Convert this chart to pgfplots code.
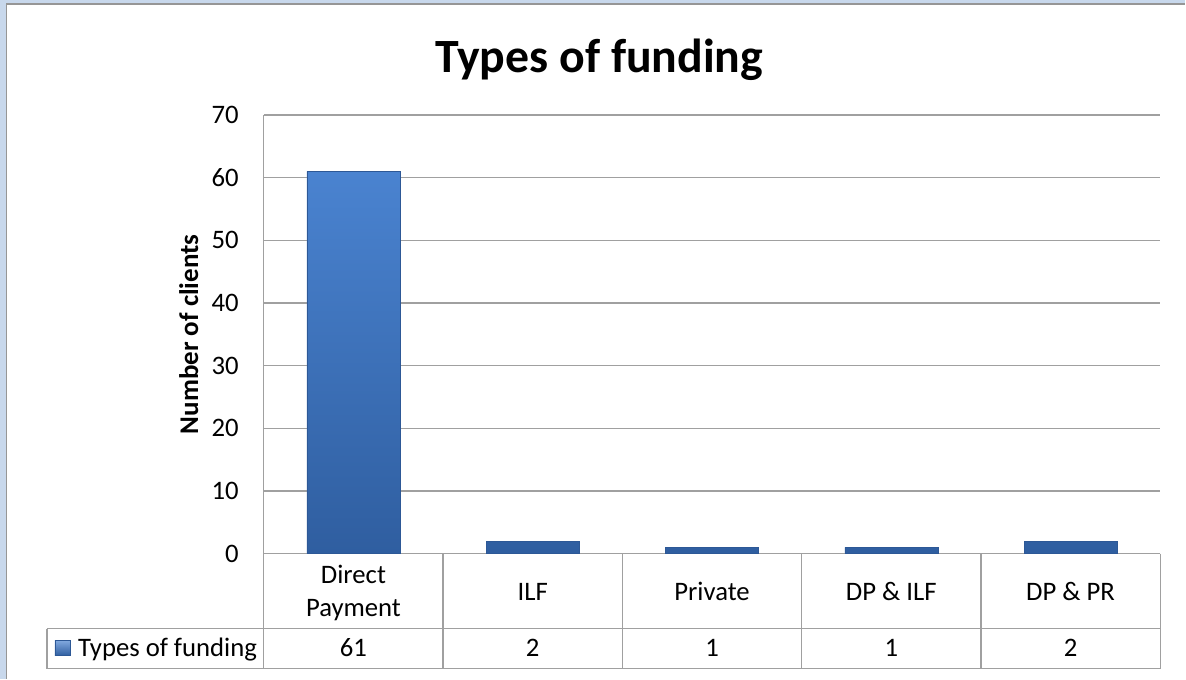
\documentclass[border=0pt]{standalone}
\usepackage{fontspec}
\setmainfont{Carlito}
\usepackage{pgfplots}
\pgfplotsset{compat=1.18}
\definecolor{gridgray}{RGB}{160,160,160}
\definecolor{frameblue}{RGB}{200,216,236}
\definecolor{framegray}{RGB}{150,150,150}
\definecolor{barTop}{RGB}{74,131,208}
\definecolor{barBot}{RGB}{47,94,160}
\definecolor{barEdge}{RGB}{45,88,150}
\begin{document}
\begin{tikzpicture}
\fill[frameblue] (0pt,0pt) rectangle (1186pt,679pt);
\fill[white] (6pt,0pt) rectangle (1186pt,675pt);
\draw[framegray, line width=1.6pt] (6.5pt,0pt) -- (6.5pt,675pt) -- (1186pt,675pt);
\begin{axis}[
  at={(264pt,125pt)}, anchor=south west,
  scale only axis, width=897pt, height=439pt,
  xmin=-0.5, xmax=4.5, ymin=0, ymax=70,
  ytick={0,10,...,70},
  xtick={0,1,2,3,4},
  xticklabels={{\strut Direct\\\strut Payment},{\strut ILF},{\strut Private},{\strut DP \& ILF},{\strut DP \& PR}},
  axis x line=bottom, axis y line=left,
  axis line style={draw=gridgray, line width=1.3pt, -},
  major tick length=0pt,
  ymajorgrids, grid style={draw=gridgray, line width=1.3pt},
  /pgf/number format/assume math mode=true,
  yticklabel style={anchor=east, inner sep=0pt, xshift=-25pt, font=\fontsize{26.7}{31}\selectfont},
  xticklabel style={anchor=center, align=center, yshift=-40pt, font=\fontsize{26.7}{33.4}\selectfont},
  ylabel={Number of clients},
  ylabel style={at={(axis description cs:-0.0836,0.5)}, anchor=center, font=\bfseries\fontsize{27}{31}\selectfont},
  clip=false,
]
\addplot[ybar, bar width=93pt, draw=barEdge, line width=0.5pt, top color=barTop, bottom color=barBot]
  coordinates {(0,61) (1,2) (2,1) (3,1) (4,2)};
% data table grid
\draw[gridgray, line width=1.3pt] (axis cs:-1.7096,-11.959) -- (axis cs:4.5,-11.959);
\draw[gridgray, line width=1.3pt] (axis cs:-1.7096,-18.337) -- (axis cs:4.5,-18.337);
\draw[gridgray, line width=1.3pt] (axis cs:-1.7096,-11.959) -- (axis cs:-1.7096,-18.337);
\pgfplotsinvokeforeach{-0.5,0.5,1.5,2.5,3.5,4.5}{
  \draw[gridgray, line width=1.3pt] (axis cs:#1,0) -- (axis cs:#1,-18.337);
}
\node[anchor=base, font=\fontsize{26.7}{31}\selectfont] at (axis cs:0,-16.42) {61};
\node[anchor=base, font=\fontsize{26.7}{31}\selectfont] at (axis cs:1,-16.42) {2};
\node[anchor=base, font=\fontsize{26.7}{31}\selectfont] at (axis cs:2,-16.42) {1};
\node[anchor=base, font=\fontsize{26.7}{31}\selectfont] at (axis cs:3,-16.42) {1};
\node[anchor=base, font=\fontsize{26.7}{31}\selectfont] at (axis cs:4,-16.42) {2};
\end{axis}
% legend key of data table
\shade[top color=barTop!70, bottom color=barBot, draw=barEdge, line width=0.4pt] (55pt,23pt) rectangle (70pt,38pt);
\node[anchor=base west, inner sep=0pt, font=\fontsize{26.7}{31}\selectfont] at (78pt,22pt) {Types of funding};
% title
\node[anchor=base, inner sep=0pt, font=\bfseries\fontsize{47.8}{57}\selectfont] at (599.5pt,606pt) {Types of funding};
\end{tikzpicture}
\end{document}
